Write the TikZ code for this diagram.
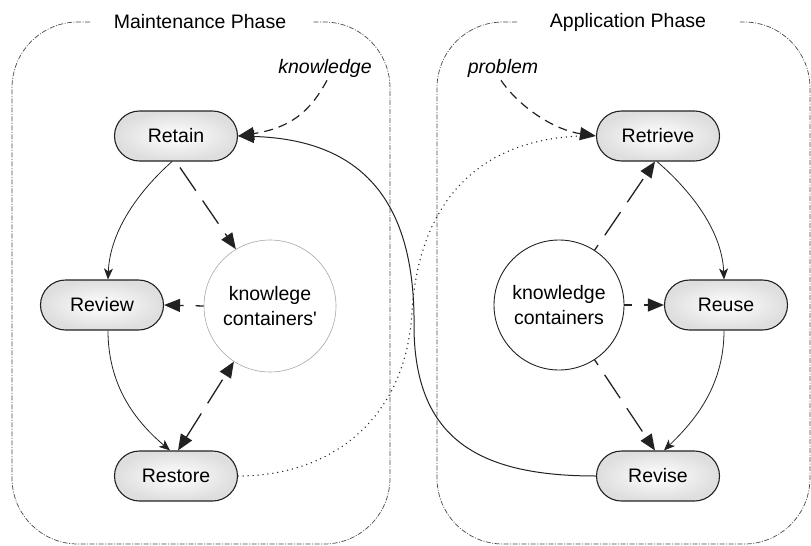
\documentclass[tikz,border=0pt]{standalone}
\usepackage{fontspec}
\setmainfont{Liberation Sans}
\newfontfamily\nomapfont{Liberation Sans}
\usetikzlibrary{arrows.meta,shapes.geometric}
\definecolor{ink}{HTML}{222222}
\definecolor{panelc}{HTML}{4A4A4A}
\tikzset{
  proc/.style={draw=ink, line width=1.1pt, rounded corners=25pt, minimum width=123pt, minimum height=50pt,
    inner color=white, outer color=black!13, font=\fontsize{19.5}{23}\selectfont},
  kcpnode/.style={circle, draw=black!35, line width=0.6pt, minimum size=132pt, inner sep=0pt, align=center,
    font=\fontsize{19.5}{25}\selectfont},
  kcnode/.style={circle, draw=ink, line width=0.9pt, minimum size=130pt, inner sep=0pt, align=center,
    font=\fontsize{19.5}{25}\selectfont},
  lbl/.style={font=\fontsize{19.5}{23}\selectfont\itshape, inner sep=1pt},
  phasetitle/.style={font=\fontsize{19.5}{23}\selectfont, inner sep=1pt},
  panel/.style={draw=panelc, line width=0.7pt, rounded corners=66pt, dash pattern=on 5pt off 1.5pt on 1pt off 1.5pt},
  flow/.style={draw=ink, line width=0.8pt, -{Stealth[length=11pt,width=9pt,inset=3pt]}},
  bigtip/.style={-{Triangle[length=16pt,width=13pt]}},
  kdash/.style={draw=ink, line width=1.3pt, dash pattern=on 28pt off 12pt},
  indash/.style={draw=ink, line width=1.2pt, dash pattern=on 9pt off 6pt},
  dotline/.style={draw=ink, line width=1.5pt, line cap=round, dash pattern=on 0pt off 5pt},
}
\begin{document}
\begin{tikzpicture}[x=1pt,y=-1pt]
\useasboundingbox (0,0) rectangle (811,546);
% panels
\draw[panel] (90,22) -- (12,22) -- (12,544) -- (390,544) -- (390,22) -- (312,22);
\draw[panel] (517,22) -- (437,22) -- (437,544) -- (810,544) -- (810,22) -- (740,22);
\node[phasetitle] (mt) at (200,22) {Maintenance Phase};
\node[phasetitle] (apt) at (628,22) {Application Phase};
% nodes
\node[proc] (retain) at (176,136) {Retain};
\node[proc] (review) at (102,305) {Review};
\node[proc] (restore) at (176,476) {Restore};
\node[kcpnode] (kcp) at (270,306) {knowlege\\containers{\nomapfont '}};
\node[proc] (retrieve) at (658,136) {Retrieve};
\node[proc] (reuse) at (726,305) {Reuse};
\node[proc] (revise) at (658,476) {Revise};
\node[kcnode] (kc) at (559,305) {knowledge\\containers};
\node[lbl] (know) at (325,68) {knowledge};
\node[lbl] (prob) at (503,68) {problem};
% long curves
\draw[draw=ink, line width=1pt, bigtip] (revise.west) .. controls (480,476) and (416,440) .. (414,330)
   .. controls (416,210) and (370,140) .. (retain.east);
\draw[dotline] (restore.east) .. controls (340,476) and (408,410) .. (412,310)
   .. controls (420,200) and (480,140) .. ([xshift=-16pt]retrieve.west);
% inputs
\draw[indash, bigtip] ([xshift=2pt,yshift=-2pt]know.south) .. controls (310,112) and (290,128) .. (retain.east);
\draw[indash, bigtip] ([xshift=-2pt,yshift=-2pt]prob.south) .. controls (520,108) and (555,130) .. (retrieve.west);
% cycle curves
\draw[flow] ([xshift=-4pt]retain.south) .. controls (140,190) and (110,230) .. ([xshift=6pt]review.north);
\draw[flow] ([xshift=6pt]review.south) .. controls (108,390) and (140,425) .. ([xshift=-6pt]restore.north);
\draw[flow] ([xshift=-1pt]retrieve.south) .. controls (690,190) and (722,230) .. ([xshift=-2pt]reuse.north);
\draw[flow] ([xshift=-2pt]reuse.south) .. controls (724,390) and (690,425) .. ([xshift=6pt]revise.north);
% knowledge container arrows
\draw[kdash, bigtip] ([xshift=4pt,yshift=-6pt]retain.south) -- (kcp.121);
\draw[kdash, bigtip, dash phase=20pt] (kcp.west) -- (review.east);
\draw[kdash, {Triangle[length=16pt,width=13pt]}-{Triangle[length=16pt,width=13pt]}] ([xshift=2pt]restore.north) -- (kcp.237);
\draw[kdash, bigtip, dash phase=22pt] (kc.57) -- ([xshift=-3pt]retrieve.south);
\draw[kdash, bigtip, dash phase=20pt] (kc.east) -- (reuse.west);
\draw[kdash, bigtip, dash phase=22pt] (kc.303) -- ([xshift=-3pt]revise.north);
\end{tikzpicture}
\end{document}
